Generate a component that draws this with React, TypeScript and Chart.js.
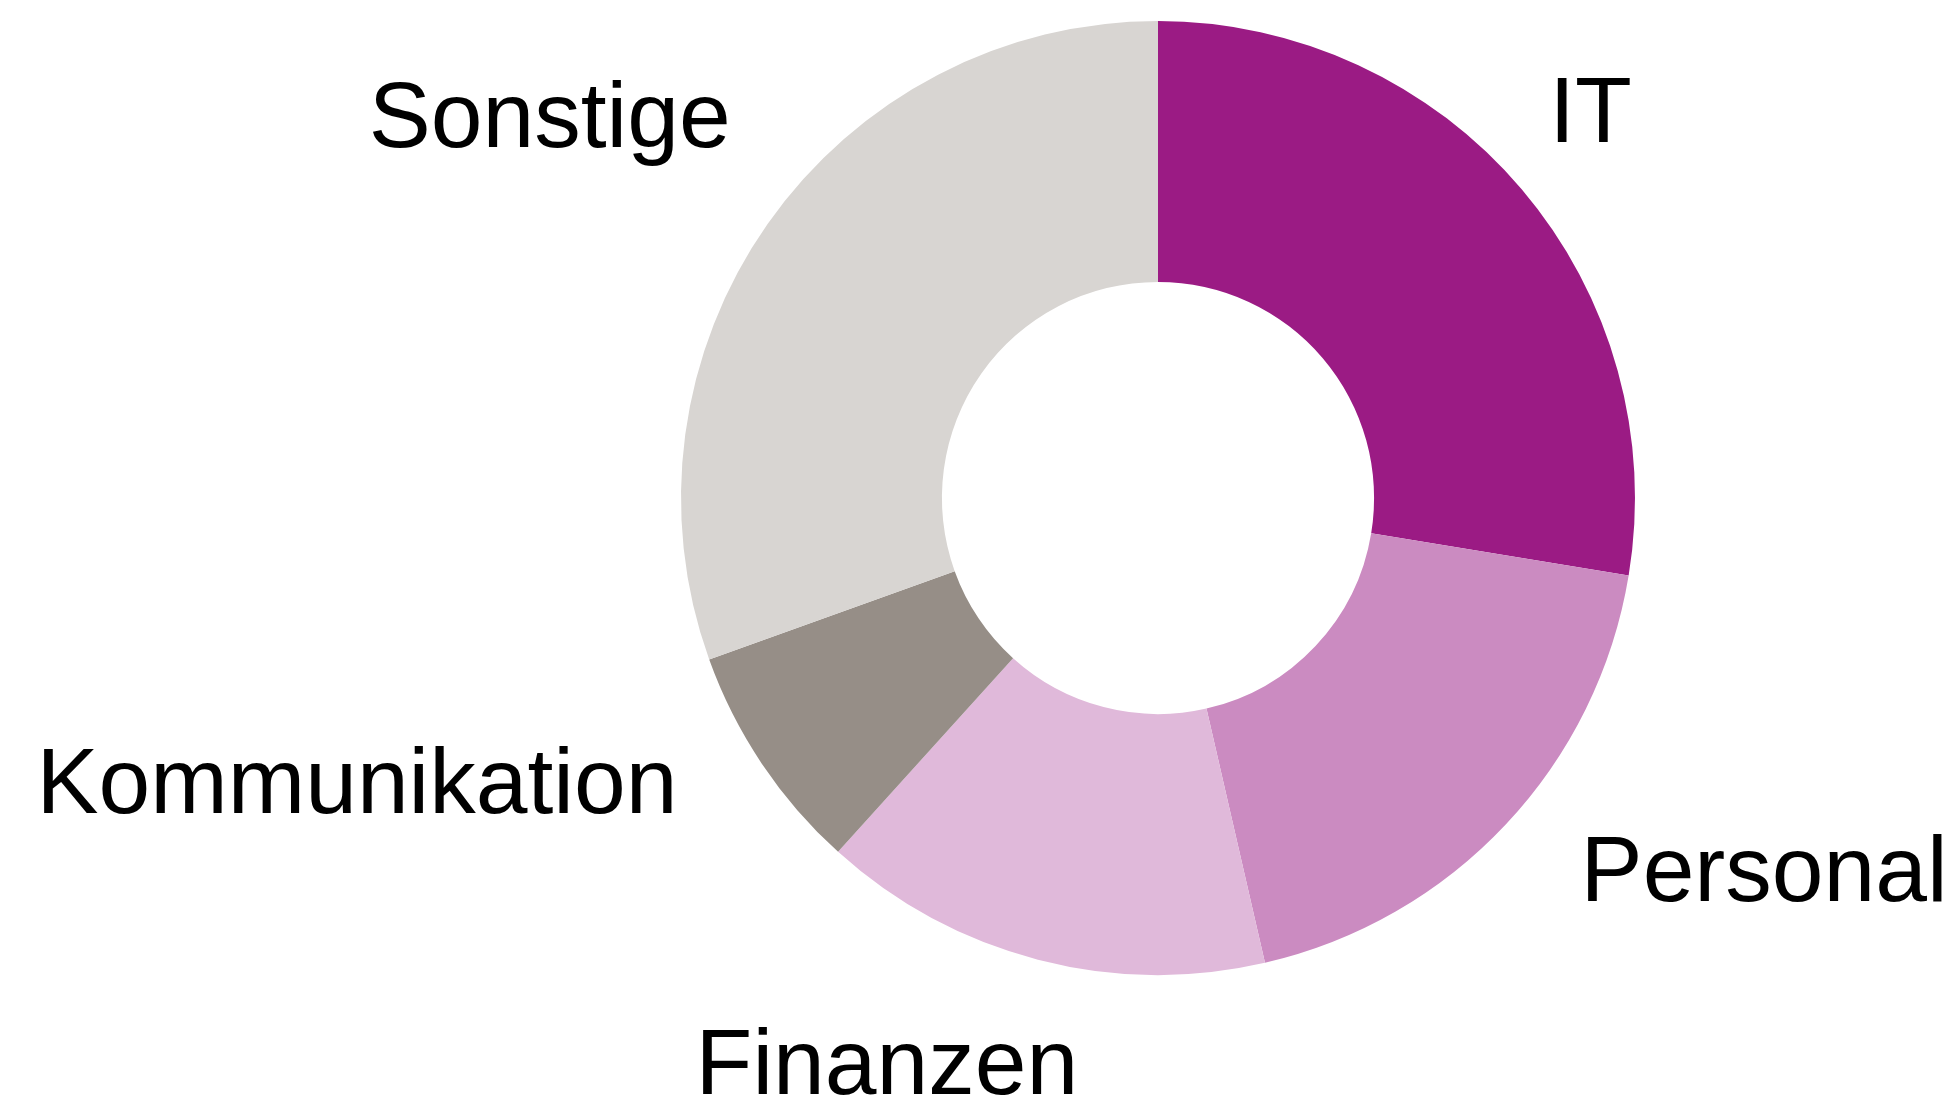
import React, { useEffect, useRef } from "react";
import { Chart, registerables } from "chart.js";

Chart.register(...registerables);

const categories = ["IT", "Personal", "Finanzen", "Kommunikation", "Sonstige"];
const shares = [27.6, 18.8, 15.3, 7.8, 30.5];
const colors = ["#9B1B84", "#CB8BC1", "#E0B9DA", "#968E87", "#D8D5D2"];

// label layout: angle nudge (degrees, clockwise) and gap beyond outer radius (px)
const labelAngleShift = [-2, -4.7, -6, 6.5, 4.3];
const labelGap = [52, 63, 58, 64, 76];
const FONT_SIZE = 93;

const labelPlugin = {
  id: "outsideLabels",
  afterDatasetsDraw(chart: any) {
    const ctx = chart.ctx;
    const meta = chart.getDatasetMeta(0);
    ctx.save();
    ctx.font = `${FONT_SIZE}px "Liberation Sans", Arial, sans-serif`;
    ctx.fillStyle = "#000000";
    const capH = FONT_SIZE * 0.716;
    meta.data.forEach((el: any, i: number) => {
      const p = el.getProps(["x", "y", "startAngle", "endAngle", "outerRadius"], true);
      const mid = (p.startAngle + p.endAngle) / 2 + (labelAngleShift[i] * Math.PI) / 180;
      const ux = Math.cos(mid);
      const uy = Math.sin(mid);
      const d = p.outerRadius + labelGap[i];
      const ax = p.x + ux * d;
      const ay = p.y + uy * d;
      ctx.textAlign = ux >= 0 ? "left" : "right";
      ctx.textBaseline = "alphabetic";
      const y = uy < 0 ? ay : ay + capH;
      ctx.fillText(categories[i], ax, y);
    });
    ctx.restore();
  },
};

export default function App() {
  const ref = useRef<HTMLCanvasElement | null>(null);
  useEffect(() => {
    document.body.style.margin = "0";
    const chart = new Chart(ref.current as HTMLCanvasElement, {
      type: "doughnut",
      data: {
        labels: categories,
        datasets: [
          {
            data: shares,
            backgroundColor: colors,
            borderWidth: 0,
          },
        ],
      },
      options: {
        animation: false,
        responsive: false,
        devicePixelRatio: 1,
        cutout: "45.3%",
        layout: { padding: { left: 681, right: 311, top: 21, bottom: 123 } },
        plugins: {
          legend: { display: false },
          tooltip: { enabled: false },
        },
      },
      plugins: [labelPlugin],
    });
    return () => chart.destroy();
  }, []);
  return (
    <div style={{ position: "absolute", left: 0, top: 0, width: 1946, height: 1098, background: "#ffffff" }}>
      <canvas ref={ref} width={1946} height={1098} />
    </div>
  );
}
